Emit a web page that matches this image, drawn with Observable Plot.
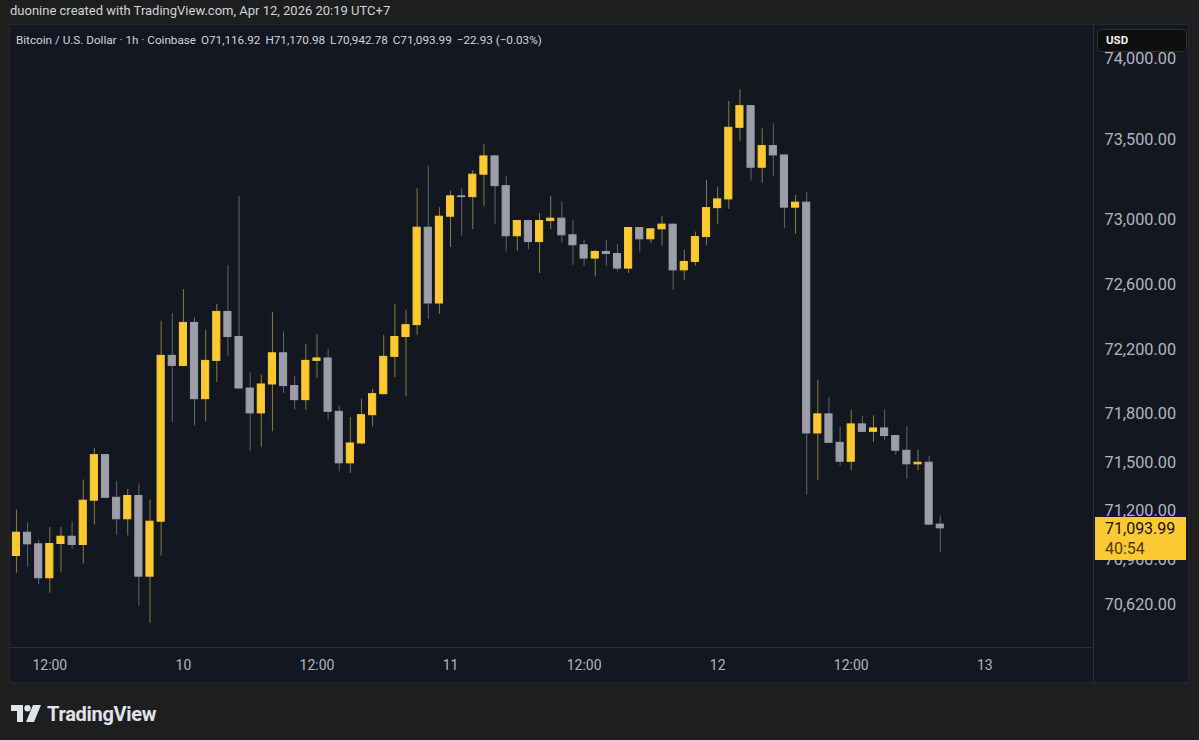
<!DOCTYPE html>
<html>
<head>
<meta charset="utf-8">
<script src="https://cdn.jsdelivr.net/npm/d3@7"></script>
<script src="https://cdn.jsdelivr.net/npm/@observablehq/plot@0.6"></script>
<style>
  html, body { margin: 0; padding: 0; background: #1e1e1e; width: 1199px; height: 740px; overflow: hidden;
    font-family: Roboto, "Noto Sans", "DejaVu Sans", sans-serif; }
  #credit { position: absolute; left: 10px; top: 3px; font-size: 13px; line-height: 16px; color: #d1d4dc; white-space: nowrap; }
  #pane { position: absolute; left: 9px; top: 24px; width: 1180px; height: 659px; background: #131722; box-sizing: border-box; border: 1px solid #23272f; }
  #plotwrap { position: absolute; left: -1px; top: -1px; }
  #legend { position: absolute; left: 6px; top: 8px; font-size: 11.7px; line-height: 14px; color: #d1d4dc; white-space: nowrap; }
  #legend span { margin-right: 5px; }
  .vsep { position: absolute; left: 1083px; top: -1px; width: 1px; height: 659px; background: #2a2e39; }
  .hsep { position: absolute; left: -1px; top: 622px; width: 1084px; height: 1px; background: #2a2e39; }
  #usd { position: absolute; left: 1087px; top: 4px; width: 90px; height: 23px; box-sizing: border-box; background: #0e0e0e;
    border: 1px solid #2e2f33; border-radius: 4px; color: #f0f0f0; font-size: 11.5px; font-weight: bold; line-height: 21px; padding-left: 8px; }
  #pricebox { position: absolute; left: 1085px; width: 91px; height: 43px; background: #fcca30; box-sizing: border-box; padding-left: 10px; }
  #pricebox .p { font-size: 16px; line-height: 21px; color: #131313; padding-top: 1px; }
  #pricebox .t { font-size: 16px; line-height: 19px; color: #4a3d12; }
  #logo { position: absolute; left: 11px; top: 702px; display: flex; align-items: center; gap: 6px; color: #e0e3eb; font-size: 20px; font-weight: bold; letter-spacing: -0.3px; }
</style>
</head>
<body>
<div id="credit">duonine created with TradingView.com, Apr 12, 2026 20:19 UTC+7</div>
<div id="pane">
  <div id="plotwrap"></div>
  <div class="vsep"></div>
  <div class="hsep"></div>
  <div id="legend"></div>
  <div id="usd">USD</div>
</div>
<div id="logo">
  <svg width="30" height="18" viewBox="0 0 30 18"><path d="M0 0 H12 V17 H6 V6 H0 Z" fill="#e0e3eb"/><circle cx="16.5" cy="3.2" r="3.2" fill="#e0e3eb"/><path d="M22 0 H30 L23 17 H15 Z" fill="#e0e3eb"/></svg>
  <span>TradingView</span>
</div>
<script>
// ---- data (BTC/USD, Coinbase, 1h candles, times in UTC+7 shown as UTC) ----
const firstCandle = "2026-04-09T09:00:00Z";
const opens = [70923,71067,70995,70785,70997,71042,70991,71265,71547,71283,71150,71294,70795,71135,72161,72099,72365,71893,72130,72433,
  72278,71959,71805,71984,72177,71974,71887,72130,72145,71815,71496,71619,71794,71924,72155,72278,72351,72954,72485,73022,
  73148,73143,73282,73395,73211,72901,72995,72865,72995,73010,72907,72845,72763,72804,72791,72701,72952,72882,72944,72973,
  72690,72742,72896,73075,73129,73572,73706,73325,73459,73401,73078,73109,71681,71799,71623,71506,71737,71691,71712,71665,
  71574,71490,71500,71116.92];
const highs = [71207,71129,71022,71100,71100,71133,71393,71589,71550,71382,71335,71368,71269,72375,72423,72571,72398,72320,72480,72721,
  73148,72056,72042,72429,72309,72035,72233,72293,72202,71850,71780,71893,71953,72289,72480,72443,73195,73333,73078,73180,
  73195,73308,73469,73400,73271,72998,72998,73041,73148,73113,72999,72876,72814,72876,72849,72955,72955,72946,73024,72975,
  72814,72927,73247,73205,73735,73807,73710,73566,73597,73404,73154,73174,72011,71904,71722,71825,71788,71790,71825,71668,
  71722,71578,71541,71170.98];
const lows = [70816,70853,70744,70692,70820,70964,70873,71115,71280,71053,71047,70614,70507,70923,71747,72095,71728,71753,71996,72159,
  71955,71568,71595,71691,71928,71825,71825,72021,71763,71444,71434,71610,71722,71920,72027,71907,72289,72386,72418,72831,
  72902,72942,73086,72975,72804,72808,72818,72670,72942,72855,72721,72715,72649,72715,72680,72670,72804,72855,72841,72567,
  72629,72717,72845,72975,73067,73489,73242,73230,73271,72948,72913,71300,71388,71620,71479,71450,71688,71626,71640,71547,
  71397,71450,71110,70942.78];
const closes = [71067,70995,70785,70997,71042,70991,71265,71547,71283,71150,71294,70795,71135,72161,72099,72365,71893,72130,72433,72278,
  71959,71805,71984,72177,71974,71887,72130,72145,71815,71496,71619,71794,71924,72155,72278,72351,72954,72485,73022,73148,
  73143,73282,73395,73211,72901,72995,72865,72995,73010,72907,72845,72763,72804,72791,72701,72952,72882,72944,72973,72690,
  72742,72896,73075,73129,73572,73706,73325,73459,73401,73078,73109,71681,71799,71623,71506,71737,71691,71712,71665,71574,
  71490,71500,71116.92,71093.99];

const yTickValues = [74000, 73500, 73000, 72600, 72200, 71800, 71500, 71200, 70900, 70620];
const yTickLabels = ["74,000.00","73,500.00","73,000.00","72,600.00","72,200.00","71,800.00","71,500.00","71,200.00","70,900.00","70,620.00"];
const xTickDates = ["2026-04-09T12:00:00Z","2026-04-10T00:00:00Z","2026-04-10T12:00:00Z","2026-04-11T00:00:00Z",
  "2026-04-11T12:00:00Z","2026-04-12T00:00:00Z","2026-04-12T12:00:00Z","2026-04-13T00:00:00Z"];
const xTickLabels = ["12:00","10","12:00","11","12:00","12","12:00","13"];
const xDomain = ["2026-04-09T08:28:00Z", "2026-04-13T09:41:00Z"];
const yDomain = [70360, 74205];

const legendParts = ["Bitcoin / U.S. Dollar · 1h · Coinbase", "O71,116.92", "H71,170.98", "L70,942.78", "C71,093.99", "−22.93 (−0.03%)"];
const lastPriceLabel = "71,093.99";
const countdownLabel = "40:54";

// ---- styles ----
const upColor = "#fcca30", downColor = "#9c9ea8";
const upWick = "#8f7c35", downWick = "#62656f";

// ---- build ----
const HOUR = 3600e3;
const t0 = +new Date(firstCandle);
const candles = opens.map((o, i) => ({time: new Date(t0 + i * HOUR), open: o, high: highs[i], low: lows[i], close: closes[i]}));
const ups = candles.filter(d => d.close >= d.open);
const downs = candles.filter(d => d.close < d.open);
const xLab = new Map(xTickDates.map((d, i) => [+new Date(d), xTickLabels[i]]));
const yLab = new Map(yTickValues.map((v, i) => [v, yTickLabels[i]]));

const bodyOpts = (fill) => ({
  x1: d => new Date(+d.time - HOUR / 2), x2: d => new Date(+d.time + HOUR / 2),
  y1: "open", y2: "close", fill, stroke: fill, strokeWidth: 1, insetLeft: 2, insetRight: 2
});

const chart = Plot.plot({
  width: 1180, height: 659,
  marginLeft: 1, marginRight: 96, marginTop: 1, marginBottom: 36,
  style: {background: "transparent", color: "#b2b5be", fontFamily: "Roboto, 'Noto Sans', sans-serif", overflow: "visible"},
  x: {type: "utc", domain: xDomain.map(d => new Date(d))},
  y: {domain: yDomain},
  marks: [
    Plot.axisX(xTickDates.map(d => new Date(d)), {tickSize: 0, tickPadding: 13, fontSize: 14, tickFormat: d => xLab.get(+d)}),
    Plot.axisY(yTickValues, {anchor: "right", tickSize: 0, tickPadding: 12, fontSize: 16.3, tickFormat: d => yLab.get(d)}),
    Plot.ruleX(ups, {x: "time", y1: "low", y2: "high", stroke: upWick, strokeWidth: 1}),
    Plot.ruleX(downs, {x: "time", y1: "low", y2: "high", stroke: downWick, strokeWidth: 1}),
    Plot.rect(ups, bodyOpts(upColor)),
    Plot.rect(downs, bodyOpts(downColor))
  ]
});
document.getElementById("plotwrap").appendChild(chart);

document.getElementById("legend").innerHTML = legendParts.map(s => `<span>${s}</span>`).join("");

// last price label, positioned through the y scale
const yLast = chart.scale("y").apply(closes[closes.length - 1]);
const box = document.createElement("div");
box.id = "pricebox";
box.style.top = (yLast - 1 - 11.5) + "px";
box.innerHTML = `<div class="p">${lastPriceLabel}</div><div class="t">${countdownLabel}</div>`;
document.getElementById("pane").appendChild(box);
</script>
</body>
</html>
